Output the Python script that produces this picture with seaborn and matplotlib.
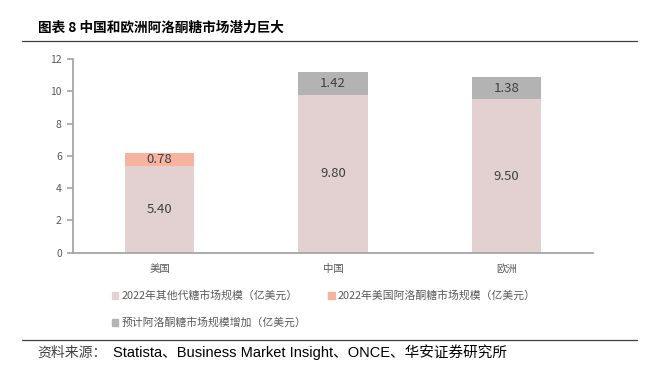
import seaborn as sns
import pandas as pd
import matplotlib.pyplot as plt
from matplotlib.patches import Patch
from matplotlib.lines import Line2D

# 数据
categories = ['美国', '中国', '欧洲']
other_sweetener = [5.40, 9.80, 9.50]   # 2022年其他代糖市场规模
us_allulose = [0.78, 0.0, 0.0]         # 2022年美国阿洛酮糖市场规模
increase = [0.0, 1.42, 1.38]           # 预计阿洛酮糖市场规模增加

legend_labels = ['2022年其他代糖市场规模（亿美元）',
                 '2022年美国阿洛酮糖市场规模（亿美元）',
                 '预计阿洛酮糖市场规模增加（亿美元）']

c_other = '#e3d1d2'
c_us = '#f6b3a0'
c_inc = '#b3b3b3'
c_axis = '#a6a6a6'
c_text = '#404040'

df = pd.DataFrame({'地区': categories, 'other': other_sweetener,
                   'us': us_allulose, 'inc': increase})
df['lvl2'] = df['other'] + df['us']
df['lvl3'] = df['lvl2'] + df['inc']

sns.set_theme(style='white')
plt.rcParams['font.family'] = ['Noto Sans CJK SC', 'DejaVu Sans']

fig = plt.figure(figsize=(6.51, 3.65), dpi=100)
ax = fig.add_axes([0.112, 0.308, 0.799, 0.53])

# 叠加柱：先画总高度，再逐层覆盖
for col, colour in [('lvl3', c_inc), ('lvl2', c_us), ('other', c_other)]:
    sns.barplot(data=df, x='地区', y=col, color=colour, width=0.4,
                saturation=1, linewidth=0, ax=ax)

# 数值标签
for i in range(len(categories)):
    ax.text(i, other_sweetener[i] / 2, f'{other_sweetener[i]:.2f}',
            ha='center', va='center', fontsize=9.5, color=c_text)
    if us_allulose[i] > 0:
        ax.text(i, other_sweetener[i] + us_allulose[i] / 2, f'{us_allulose[i]:.2f}',
                ha='center', va='center', fontsize=9.5, color=c_text)
    if increase[i] > 0:
        y = other_sweetener[i] + us_allulose[i] + increase[i] / 2
        ax.text(i, y, f'{increase[i]:.2f}',
                ha='center', va='center', fontsize=9.5, color=c_text)

ax.set_ylim(0, 12)
ax.set_xlim(-0.5, 2.5)
ax.set_yticks(range(0, 13, 2))
ax.set_xlabel('')
ax.set_ylabel('')
ax.set_xticks([-0.5, 0.5, 1.5, 2.5], minor=True)
ax.tick_params(axis='x', which='major', length=0, labelsize=7.5,
               labelcolor='#595959', pad=8)
ax.tick_params(axis='x', which='minor', length=4, color=c_axis, direction='out')
ax.tick_params(axis='y', length=4, color=c_axis, direction='out',
               labelsize=7.5, labelcolor='#595959', left=True, pad=4)
for s in ['top', 'right']:
    ax.spines[s].set_visible(False)
for s in ['left', 'bottom']:
    ax.spines[s].set_color(c_axis)
    ax.spines[s].set_linewidth(1.3)

# 图例
handles = [Patch(color=c_other), Patch(color=c_inc), Patch(color=c_us)]
labels = [legend_labels[0], legend_labels[2], legend_labels[1]]
fig.legend(handles, labels, ncol=2, loc='upper left',
           bbox_to_anchor=(0.172, 0.204), frameon=False, fontsize=7.8,
           labelcolor='#595959', handlelength=0.6, handleheight=0.6,
           handletextpad=0.25, columnspacing=2.05, labelspacing=1.5,
           borderpad=0, borderaxespad=0)

# 标题与分隔线
fig.text(0.058, 0.925, '图表 8 中国和欧洲阿洛酮糖市场潜力巨大',
         fontsize=9.8, fontweight='bold', color='black', va='center')
fig.add_artist(Line2D([0.034, 0.979], [0.888, 0.888], color='#404040', lw=0.9))
fig.add_artist(Line2D([0.034, 0.979], [0.068, 0.068], color='#404040', lw=0.9))
fig.text(0.058, 0.035, '资料来源：', fontsize=10, color='#404040', va='center',
         family=['Noto Sans CJK SC'])
fig.text(0.174, 0.035, 'Statista、Business Market Insight、ONCE、华安证券研究所',
         fontsize=10.5, color='black', va='center',
         family=['Liberation Sans', 'Noto Sans CJK SC'])

fig.savefig('out.png', dpi=100)
